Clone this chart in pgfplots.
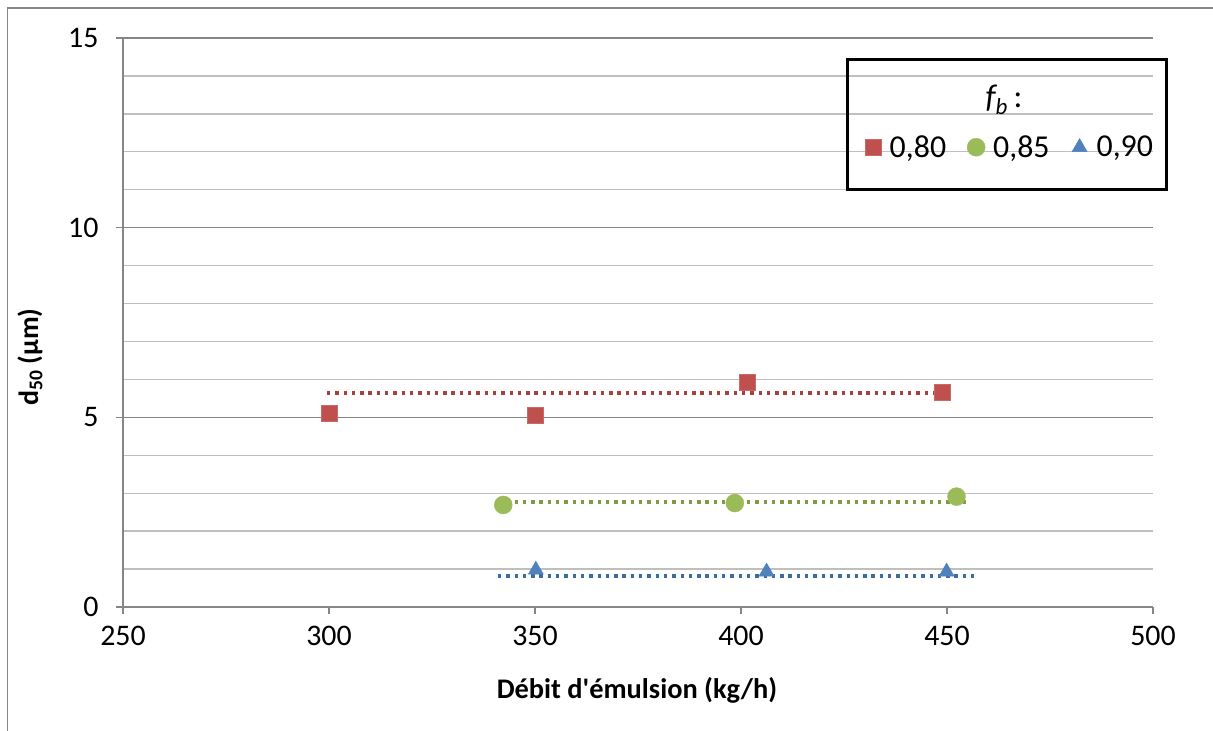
\documentclass[border=0pt]{standalone}
\usepackage{pgfplots}
\pgfplotsset{compat=1.18}
\usepackage{fontspec}
\setmainfont{Carlito}[Ligatures=TeXOff]
\definecolor{cred}{HTML}{C0504D}
\definecolor{cgreen}{HTML}{9BBB59}
\definecolor{cblue}{HTML}{4F81BD}
\definecolor{tred}{HTML}{A8403D}
\definecolor{tgreen}{HTML}{7E9B45}
\definecolor{tblue}{HTML}{3D6CA5}
\definecolor{axgray}{HTML}{868686}
\definecolor{gridgray}{HTML}{BFBFBF}
\begin{document}
\begin{tikzpicture}[x=1bp,y=1bp]
\draw[axgray, line width=1.5bp] (7.5,0) -- (7.5,723) -- (1213,723);
\begin{axis}[
  at={(123bp,124bp)}, anchor=south west,
  scale only axis, width=1030bp, height=569bp,
  xmin=250, xmax=500, ymin=0, ymax=15,
  xtick={250,300,350,400,450,500}, ytick={0,5,10,15},
  minor ytick={1,2,3,4,6,7,8,9,11,12,13,14},
  ymajorgrids, yminorgrids,
  major grid style={axgray, line width=1.3bp},
  minor grid style={gridgray, line width=1.3bp},
  axis x line*=bottom, axis y line*=left,
  axis line style={axgray, line width=1.3bp, -},
  tick align=outside, major tick length=7bp, minor tick length=0pt,
  tick style={axgray, line width=1.3bp},
  /pgf/number format/assume math mode=true,
  /pgf/number format/set thousands separator={},
  ticklabel style={font=\fontsize{30}{36}\selectfont, text=black},
  xticklabel style={yshift=-9bp},
  yticklabel style={xshift=-14bp},
  legend columns=3,
  legend cell align=left,
  legend style={draw=none, fill=none, at={(0.862,0.808)}, anchor=center,
    font=\fontsize{32}{38}\selectfont,
    nodes={inner xsep=6bp, inner ysep=2bp},
    /tikz/every even column/.append style={column sep=14bp}},
  legend image code/.code={\path[draw=none, fill=none] (0,0) -- (21bp,0); \draw[#1] plot coordinates {(10bp,0)};},
]
\addplot[only marks, mark=square*, mark size=8bp, draw=cred!85!white, fill=cred]
  coordinates {(300,5.11) (350,5.06) (401.5,5.93) (448.8,5.67)};
\addlegendentry{0,80}
\addplot[only marks, mark=*, mark size=9bp, draw=cgreen, fill=cgreen]
  coordinates {(342.3,2.69) (398.5,2.74) (452.3,2.91)};
\addlegendentry{0,85}
\addplot[only marks, mark=triangle*, mark size=8.7bp, draw=cblue, fill=cblue]
  coordinates {(350.2,0.98) (406.2,0.93) (449.9,0.93)};
\addlegendentry{0,90}
\addplot[forget plot, tred, line width=3.4bp, dash pattern=on 3.4bp off 4.9bp]
  coordinates {(299.5,5.64) (449.5,5.64)};
\addplot[forget plot, tgreen, line width=3.4bp, dash pattern=on 3.4bp off 4.9bp]
  coordinates {(341,2.77) (455,2.77)};
\addplot[forget plot, tblue, line width=3.4bp, dash pattern=on 3.4bp off 4.9bp]
  coordinates {(341,0.82) (456.6,0.82)};
\end{axis}
\draw[black, line width=3bp] (847,671) rectangle (1166,541);
\node[font=\fontsize{33}{40}\selectfont] at (1004,631) {\itshape f\textsubscript{b}\upshape\,:};
\node[rotate=90, font=\bfseries\fontsize{28}{34}\selectfont] at (30,374) {d\textsubscript{50} (µm)};
\node[font=\bfseries\fontsize{28.5}{34}\selectfont] at (637,41) {Débit d'émulsion (kg/h)};
\pgfresetboundingbox
\useasboundingbox (0,0) rectangle (1213,731);
\end{tikzpicture}
\end{document}
